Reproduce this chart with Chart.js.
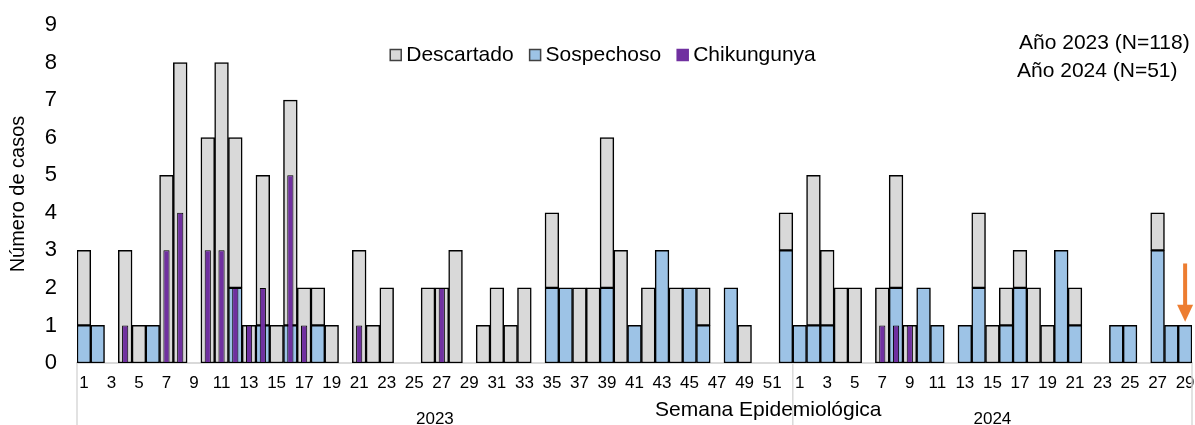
<!DOCTYPE html>
<html>
<head>
<meta charset="utf-8">
<script src="https://cdn.jsdelivr.net/npm/chart.js@4/dist/chart.umd.min.js"></script>
<style>
  html, body { margin: 0; padding: 0; background: #fff; }
  #wrap { width: 1195px; height: 425px; position: relative; }
</style>
</head>
<body>
<div id="wrap"><canvas id="chartCasos"></canvas></div>
<script>
// ===========================================
// Casos por Semana Epidemiológica 2023-2024
// ===========================================

const semanas2023 = ['1','2','3','4','5','6','7','8','9','10','11','12','13','14','15','16','17','18','19','20',
    '21','22','23','24','25','26','27','28','29','30','31','32','33','34','35','36','37','38','39','40',
    '41','42','43','44','45','46','47','48','49','50','51','52'];
const semanas2024 = ['1','2','3','4','5','6','7','8','9','10','11','12','13','14','15','16','17','18','19','20',
    '21','22','23','24','25','26','27','28','29'];

const sospechoso2023 = [1,1,0,0,0,1,0,0,0,0, 0,2,0,1,0,1,0,1,0,0, 0,0,0,0,0,0,0,0,0,0,
    0,0,0,0,2,2,0,0,2,0, 1,0,3,0,2,1,0,2,0,0, 0,3];
const descartado2023 = [2,0,0,3,1,0,5,8,0,6, 8,4,1,4,1,6,2,1,1,0, 3,1,2,0,0,2,2,3,0,1,
    2,1,2,0,2,0,2,2,4,3, 0,2,0,2,0,1,0,0,1,0, 0,1];
const chikungunya2023 = [0,0,0,1,0,0,3,4,0,3, 3,2,1,2,0,5,1,0,0,0, 1,0,0,0,0,0,2,0,0,0,
    0,0,0,0,0,0,0,0,0,0, 0,0,0,0,0,0,0,0,0,0, 0,0];

const sospechoso2024 = [1,1,1,0,0,0,0,2,0,2, 1,0,1,2,0,1,2,0,0,3, 1,0,0,1,1,0,3,1,1];
const descartado2024 = [0,4,2,2,2,0,2,3,1,0, 0,0,0,2,1,1,1,2,1,0, 1,0,0,0,0,0,1,0,0];
const chikungunya2024 = [0,0,0,0,0,0,1,1,1,0, 0,0,0,0,0,0,0,0,0,0, 0,0,0,0,0,0,0,0,0];

const anios = ['2023', '2024'];
const notas = ['Año 2023 (N=118)', 'Año 2024 (N=51)'];
const yTicks = { min: 0, max: 9, step: 1 };

// flecha: semana 29 de 2024, de 2.65 a 1.1 casos
const flecha = { index: 80, desde: 2.65, hasta: 1.1 };

const COLORS = {
    descartado: '#D9D9D9',
    sospechoso: '#9DC3E6',
    chik: '#7030A0',
    borde: '#000000',
    eje: '#D9D9D9',
    flecha: '#ED7D31'
};
const FONT = "'Liberation Sans', Arial, sans-serif";

const labels = semanas2023.concat(semanas2024);
const nz = arr => arr.map(v => v > 0 ? v : null);

// ============================
// Plugin: leyenda, notas, títulos de eje, años y flecha
// ============================
const extrasPlugin = {
    id: 'extras',
    afterDraw(chart) {
        const ctx = chart.ctx;
        const area = chart.chartArea;
        const xs = chart.scales.x;
        const ys = chart.scales.y;
        ctx.save();

        // separadores de año
        const sep = (xs.getPixelForValue(semanas2023.length - 1) + xs.getPixelForValue(semanas2023.length)) / 2;
        ctx.strokeStyle = COLORS.eje;
        ctx.lineWidth = 1.5;
        [area.left, sep, area.right].forEach(x => {
            ctx.beginPath();
            ctx.moveTo(x, area.bottom);
            ctx.lineTo(x, chart.height);
            ctx.stroke();
        });

        ctx.fillStyle = '#000';
        ctx.textAlign = 'center';
        ctx.textBaseline = 'alphabetic';
        ctx.font = '17px ' + FONT;
        ctx.fillText(anios[0], (area.left + sep) / 2, 424);
        ctx.fillText(anios[1], (sep + area.right) / 2, 424);

        ctx.font = '21px ' + FONT;
        ctx.fillText('Semana Epidemiológica', area.left + (area.right - area.left) * 0.62, 416);

        // notas
        ctx.textAlign = 'left';
        ctx.textBaseline = 'middle';
        ctx.fillText(notas[0], 1019, 43);
        ctx.fillText(notas[1], 1017, 71);

        // leyenda
        const items = [
            { text: 'Descartado', fill: COLORS.descartado, stroke: '#404040' },
            { text: 'Sospechoso', fill: COLORS.sospechoso, stroke: '#404040' },
            { text: 'Chikungunya', fill: COLORS.chik, stroke: COLORS.chik }
        ];
        const box = 11, gapTxt = 5, gapItem = 16;
        const widths = items.map(it => box + gapTxt + ctx.measureText(it.text).width);
        const total = widths.reduce((s, w) => s + w, 0) + gapItem * (items.length - 1);
        let lx = 603 - total / 2;
        const ly = 55;
        items.forEach((it, i) => {
            ctx.fillStyle = it.fill;
            ctx.fillRect(lx, ly - box / 2, box, box);
            ctx.strokeStyle = it.stroke;
            ctx.lineWidth = 1.5;
            ctx.strokeRect(lx, ly - box / 2, box, box);
            ctx.fillStyle = '#000';
            ctx.fillText(it.text, lx + box + gapTxt, ly);
            lx += widths[i] + gapItem;
        });

        // flecha
        const fx = xs.getPixelForValue(flecha.index);
        const y0 = ys.getPixelForValue(flecha.desde);
        const y1 = ys.getPixelForValue(flecha.hasta);
        const head = 17;
        ctx.strokeStyle = COLORS.flecha;
        ctx.fillStyle = COLORS.flecha;
        ctx.lineWidth = 4;
        ctx.beginPath();
        ctx.moveTo(fx, y0);
        ctx.lineTo(fx, y1 - head + 2);
        ctx.stroke();
        ctx.beginPath();
        ctx.moveTo(fx - 8, y1 - head);
        ctx.lineTo(fx + 8, y1 - head);
        ctx.lineTo(fx, y1);
        ctx.closePath();
        ctx.fill();

        ctx.restore();
    }
};

const ctx = document.getElementById('chartCasos');
new Chart(ctx.getContext('2d'), {
    type: 'bar',
    data: {
        labels,
        datasets: [
            {
                label: 'Chikungunya',
                data: nz(chikungunya2023.concat(chikungunya2024)),
                backgroundColor: COLORS.chik,
                borderColor: COLORS.borde,
                borderWidth: 1,
                borderSkipped: false,
                stack: 'chik',
                grouped: false,
                barPercentage: 0.45,
                categoryPercentage: 1,
                order: 0
            },
            {
                label: 'Sospechoso',
                data: nz(sospechoso2023.concat(sospechoso2024)),
                backgroundColor: COLORS.sospechoso,
                borderColor: COLORS.borde,
                borderWidth: 1.5,
                borderSkipped: false,
                stack: 'casos',
                grouped: false,
                barPercentage: 1,
                categoryPercentage: 1,
                order: 1
            },
            {
                label: 'Descartado',
                data: nz(descartado2023.concat(descartado2024)),
                backgroundColor: COLORS.descartado,
                borderColor: COLORS.borde,
                borderWidth: 1.5,
                borderSkipped: false,
                stack: 'casos',
                grouped: false,
                barPercentage: 1,
                categoryPercentage: 1,
                order: 2
            }
        ]
    },
    options: {
        responsive: true,
        maintainAspectRatio: false,
        animation: false,
        layout: { padding: { top: 25, right: 3, left: 0, bottom: 0 } },
        plugins: {
            legend: { display: false },
            tooltip: { enabled: false }
        },
        scales: {
            x: {
                stacked: true,
                offset: true,
                grid: { display: false, drawTicks: false },
                border: { display: true, color: COLORS.eje, width: 2 },
                ticks: {
                    autoSkip: false,
                    maxRotation: 0,
                    minRotation: 0,
                    padding: 10,
                    color: '#000',
                    font: { family: FONT, size: 17 },
                    callback: function (val, index) {
                        return index % 2 === 0 ? this.getLabelForValue(val) : '';
                    }
                },
                afterFit: s => {
                    s.height = 62;
                    s.paddingLeft = 0;
                    s.paddingRight = 0;
                }
            },
            y: {
                stacked: true,
                min: yTicks.min,
                max: yTicks.max,
                grid: { display: false, drawTicks: false },
                border: { display: false },
                ticks: {
                    stepSize: yTicks.step,
                    padding: 20,
                    color: '#000',
                    font: { family: FONT, size: 22 }
                },
                title: {
                    display: true,
                    text: 'Número de casos',
                    color: '#000',
                    font: { family: FONT, size: 20 },
                    padding: { top: 6, bottom: 0 }
                },
                afterFit: s => {
                    s.width = 77;
                    s.paddingTop = 0;
                    s.paddingBottom = 0;
                }
            }
        }
    },
    plugins: [extrasPlugin]
});
</script>
</body>
</html>
